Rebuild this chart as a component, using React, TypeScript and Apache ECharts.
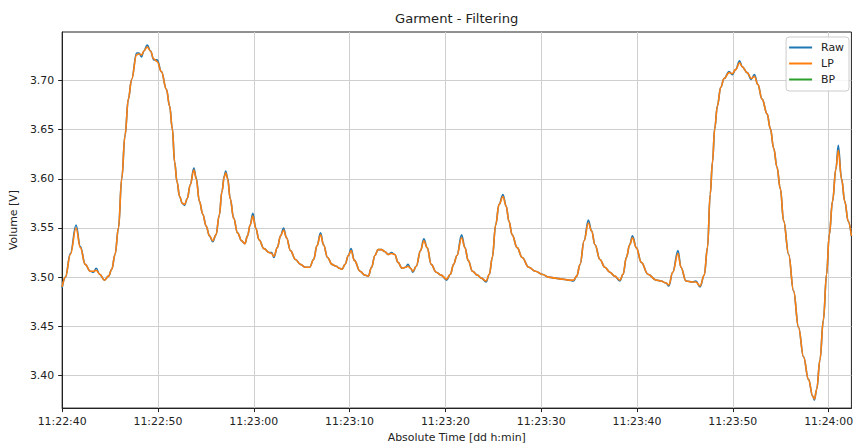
import React, { useEffect, useRef } from "react";
import * as echarts from "echarts";

// seconds after 11:22:40
const times = [
  0.0, 0.34, 0.86, 1.45, 1.9, 2.41, 2.93, 3.28, 3.55, 3.91, 4.42, 4.84, 5.18, 5.52, 5.88, 6.22, 6.56, 6.91, 7.25, 7.77,
  8.01, 8.29, 8.53, 8.88, 9.22, 9.56, 9.92, 10.36, 10.88, 11.22, 11.5, 11.74, 11.99, 12.26, 12.54, 12.78, 13.06, 13.37, 13.75, 13.99,
  14.33, 14.68, 15.03, 15.37, 15.72, 16.06, 16.4, 16.68, 16.92, 17.07, 17.27, 17.54, 17.9, 18.31, 18.73, 19.07, 19.35, 19.62, 19.9, 20.21,
  20.55, 21.07, 21.59, 21.87, 22.1, 22.46, 22.8, 23.11, 23.42, 23.83, 24.35, 24.87, 25.39, 25.83, 26.25, 26.6, 26.97, 27.28, 27.7, 28.16,
  28.6, 28.94, 29.22, 29.53, 29.88, 30.16, 30.5, 31.09, 31.61, 31.95, 32.3, 32.64, 32.98, 33.34, 33.68, 34.02, 34.37, 34.72, 35.06, 35.47,
  35.85, 36.09, 36.37, 36.61, 36.96, 37.41, 37.75, 38.1, 38.52, 39.04, 39.55, 40.13, 40.52, 40.86, 41.21, 41.69, 42.04, 42.38, 42.83, 43.35,
  43.76, 44.25, 44.59, 44.9, 45.25, 45.6, 46.01, 46.35, 46.63, 46.97, 47.49, 48.01, 48.7, 49.4, 50.08, 50.78, 51.47, 52.16, 52.85, 53.37,
  53.71, 54.06, 54.48, 54.92, 55.26, 55.62, 56.13, 56.65, 57.17, 57.69, 58.21, 58.55, 58.89, 59.24, 59.53, 59.93, 60.45, 61.14, 62.0, 62.52,
  63.04, 63.32, 63.73, 64.28, 64.59, 65.11, 65.8, 66.15, 66.58, 67.02, 67.36, 67.64, 67.88, 68.11, 68.39, 68.74, 69.09, 69.61, 69.95, 70.29,
  70.71, 70.98, 71.5, 71.92, 72.26, 72.61, 73.06, 73.58, 73.92, 74.27, 74.61, 74.96, 75.31, 75.83, 76.34, 76.86, 77.38, 77.9, 78.34, 78.52,
  78.76, 79.1, 79.45, 79.79, 80.07, 80.41, 80.76, 81.01, 81.35, 81.69, 82.04, 82.38,
];

const lpValues = [
  3.49, 3.5, 3.523, 3.55, 3.53, 3.513, 3.506, 3.506, 3.507, 3.503, 3.497, 3.501, 3.508, 3.523, 3.55, 3.6, 3.644, 3.681, 3.701, 3.726,
  3.727, 3.726, 3.73, 3.734, 3.73, 3.722, 3.719, 3.709, 3.691, 3.674, 3.651, 3.617, 3.597, 3.582, 3.575, 3.574, 3.58, 3.594, 3.609, 3.6,
  3.577, 3.564, 3.552, 3.542, 3.537, 3.543, 3.563, 3.587, 3.602, 3.606, 3.6, 3.58, 3.56, 3.545, 3.537, 3.534, 3.542, 3.553, 3.562, 3.55,
  3.538, 3.529, 3.525, 3.524, 3.521, 3.53, 3.542, 3.548, 3.54, 3.527, 3.518, 3.513, 3.51, 3.51, 3.518, 3.532, 3.543, 3.533, 3.52, 3.513,
  3.511, 3.509, 3.508, 3.513, 3.522, 3.527, 3.517, 3.506, 3.502, 3.501, 3.51, 3.522, 3.528, 3.528, 3.526, 3.523, 3.524, 3.523, 3.515, 3.509,
  3.51, 3.511, 3.509, 3.506, 3.511, 3.527, 3.537, 3.53, 3.513, 3.505, 3.502, 3.498, 3.503, 3.513, 3.522, 3.54, 3.53, 3.517, 3.506, 3.502,
  3.499, 3.496, 3.503, 3.52, 3.553, 3.574, 3.582, 3.572, 3.557, 3.543, 3.53, 3.52, 3.51, 3.506, 3.503, 3.5, 3.499, 3.498, 3.497, 3.497,
  3.501, 3.513, 3.537, 3.555, 3.547, 3.533, 3.518, 3.51, 3.505, 3.501, 3.497, 3.503, 3.52, 3.533, 3.54, 3.53, 3.515, 3.503, 3.497, 3.496,
  3.494, 3.492, 3.505, 3.524, 3.51, 3.496, 3.495, 3.495, 3.491, 3.502, 3.53, 3.584, 3.617, 3.651, 3.674, 3.693, 3.702, 3.708, 3.707, 3.711,
  3.718, 3.714, 3.708, 3.702, 3.704, 3.696, 3.681, 3.666, 3.651, 3.631, 3.612, 3.59, 3.557, 3.523, 3.486, 3.449, 3.419, 3.396, 3.379, 3.376,
  3.386, 3.416, 3.456, 3.503, 3.543, 3.577, 3.61, 3.629, 3.6, 3.577, 3.557, 3.542,
];

const rawValues = [
  3.489, 3.5, 3.524, 3.553, 3.531, 3.513, 3.506, 3.505, 3.509, 3.503, 3.497, 3.501, 3.508, 3.523, 3.55, 3.6, 3.644, 3.681, 3.701, 3.728,
  3.728, 3.724, 3.73, 3.736, 3.73, 3.721, 3.721, 3.709, 3.691, 3.674, 3.651, 3.617, 3.597, 3.582, 3.575, 3.573, 3.58, 3.594, 3.611, 3.601,
  3.577, 3.564, 3.552, 3.542, 3.536, 3.543, 3.563, 3.587, 3.603, 3.608, 3.601, 3.58, 3.56, 3.545, 3.537, 3.534, 3.542, 3.553, 3.565, 3.55,
  3.538, 3.529, 3.525, 3.525, 3.52, 3.53, 3.542, 3.55, 3.54, 3.527, 3.518, 3.513, 3.51, 3.51, 3.518, 3.532, 3.545, 3.533, 3.52, 3.513,
  3.511, 3.509, 3.508, 3.513, 3.522, 3.529, 3.517, 3.506, 3.502, 3.501, 3.51, 3.522, 3.528, 3.528, 3.526, 3.523, 3.525, 3.523, 3.515, 3.509,
  3.51, 3.513, 3.509, 3.505, 3.511, 3.527, 3.539, 3.53, 3.513, 3.505, 3.502, 3.497, 3.503, 3.513, 3.522, 3.543, 3.53, 3.517, 3.506, 3.502,
  3.499, 3.495, 3.503, 3.52, 3.553, 3.574, 3.584, 3.572, 3.557, 3.543, 3.53, 3.52, 3.51, 3.506, 3.503, 3.5, 3.499, 3.498, 3.497, 3.496,
  3.501, 3.513, 3.537, 3.558, 3.547, 3.533, 3.518, 3.51, 3.505, 3.501, 3.496, 3.503, 3.52, 3.533, 3.542, 3.53, 3.515, 3.503, 3.497, 3.496,
  3.494, 3.491, 3.505, 3.527, 3.51, 3.496, 3.495, 3.496, 3.49, 3.502, 3.53, 3.584, 3.617, 3.651, 3.674, 3.693, 3.702, 3.709, 3.706, 3.711,
  3.72, 3.714, 3.708, 3.701, 3.706, 3.696, 3.681, 3.666, 3.651, 3.631, 3.612, 3.59, 3.557, 3.523, 3.486, 3.449, 3.419, 3.396, 3.379, 3.375,
  3.386, 3.416, 3.456, 3.503, 3.543, 3.577, 3.61, 3.634, 3.6, 3.577, 3.557, 3.542,
];

const bpValues: number[] = [];

const seriesNames = ["Raw", "LP", "BP"];
const seriesColors = ["#1f77b4", "#ff7f0e", "#2ca02c"];

const xTickSeconds = [0, 10, 20, 30, 40, 50, 60, 70, 80];
const yTicks = [3.4, 3.45, 3.5, 3.55, 3.6, 3.65, 3.7];

const xMin = 0;
const xMax = 82.38;
const yMin = 3.3668;
const yMax = 3.7493;

const baseSeconds = 11 * 3600 + 22 * 60 + 40;

function fmtTime(s: number): string {
  const total = Math.round(baseSeconds + s);
  const h = Math.floor(total / 3600);
  const m = Math.floor((total % 3600) / 60);
  const sec = total % 60;
  const p = (n: number) => String(n).padStart(2, "0");
  return `${p(h)}:${p(m)}:${p(sec)}`;
}

export default function App() {
  const ref = useRef<HTMLDivElement>(null);

  useEffect(() => {
    if (!ref.current) return;
    const chart = echarts.init(ref.current, null, { renderer: "svg" });
    const font = "DejaVu Sans";
    const textColor = "#222";
    const valueSets = [rawValues, lpValues, bpValues];

    chart.setOption({
      animation: false,
      backgroundColor: "#ffffff",
      textStyle: { fontFamily: font },
      title: {
        text: "Garment - Filtering",
        left: 395,
        top: 12,
        padding: 0,
        textStyle: { fontFamily: font, fontSize: 13.1, fontWeight: "normal", color: textColor },
      },
      legend: {
        orient: "vertical",
        right: 7,
        top: 37,
        padding: [4, 5, 5, 3],
        icon: "rect",
        itemWidth: 23,
        itemHeight: 2,
        itemGap: 3,
        backgroundColor: "rgba(255,255,255,0.8)",
        borderColor: "#cccccc",
        borderWidth: 1,
        borderRadius: 3,
        textStyle: { fontFamily: font, fontSize: 10.9, color: textColor, padding: [0, 0, 0, 4], lineHeight: 13 },
        data: seriesNames.map((n, i) => ({ name: n, itemStyle: { color: seriesColors[i] } })),
      },
      grid: {
        left: 60,
        right: 1,
        top: 32,
        bottom: 36,
        show: true,
        borderColor: "#222",
        borderWidth: 1,
        backgroundColor: "transparent",
      },
      xAxis: {
        type: "value",
        min: xMin,
        max: xMax,
        interval: 10,
        name: "Absolute Time [dd h:min]",
        nameLocation: "middle",
        nameGap: 21,
        nameTextStyle: { fontFamily: font, fontSize: 10.9, color: textColor },
        axisLine: { show: true, onZero: false, lineStyle: { color: "#222", width: 1 } },
        axisTick: { show: true, length: 4, lineStyle: { color: "#222" }, customValues: xTickSeconds },
        axisLabel: {
          margin: 8,
          fontFamily: font,
          fontSize: 10.9,
          color: textColor,
          customValues: xTickSeconds,
          formatter: (v: number) => fmtTime(v),
        },
        splitLine: { show: true, lineStyle: { color: "#cfcfcf", width: 1 } },
      },
      yAxis: {
        type: "value",
        min: yMin,
        max: yMax,
        splitNumber: 8,
        name: "Volume [V]",
        nameLocation: "middle",
        nameGap: 38,
        nameRotate: 90,
        nameTextStyle: { fontFamily: font, fontSize: 10.9, color: textColor },
        axisLine: { show: true, onZero: false, lineStyle: { color: "#222", width: 1 } },
        axisTick: { show: true, length: 4, lineStyle: { color: "#222" }, customValues: yTicks },
        axisLabel: {
          margin: 8,
          fontFamily: font,
          fontSize: 10.9,
          color: textColor,
          customValues: yTicks,
          formatter: (v: number) => v.toFixed(2),
        },
        splitLine: { show: true, lineStyle: { color: "#cfcfcf", width: 1 } },
      },
      series: seriesNames.map((name, i) => ({
        name,
        type: "line",
        data: valueSets[i].map((v, k) => [times[k], v]),
        symbol: "none",
        smooth: 0.4,
        smoothMonotone: "x",
        color: seriesColors[i],
        lineStyle: { color: seriesColors[i], width: 1.6 },
        z: 2 + i,
      })),
    });

    return () => chart.dispose();
  }, []);

  return (
    <div
      ref={ref}
      style={{ position: "fixed", left: 0, top: 0, width: 856, height: 448 }}
    />
  );
}
